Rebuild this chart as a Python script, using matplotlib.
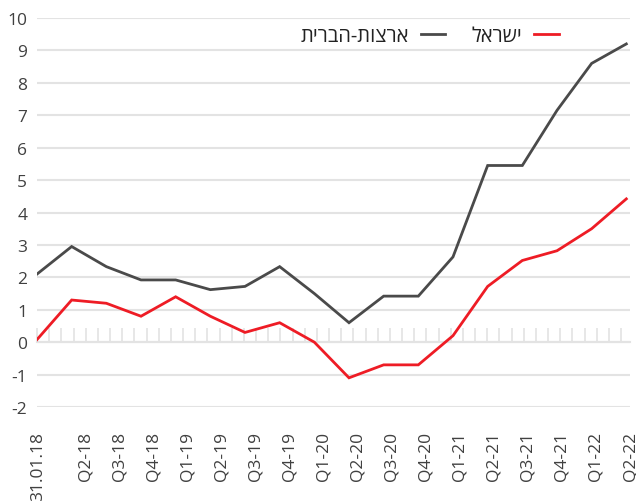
import matplotlib
matplotlib.use("Agg")
import matplotlib.pyplot as plt
from matplotlib.lines import Line2D
import numpy as np

plt.rcParams['font.family'] = ['Open Sans', 'DejaVu Sans']
plt.rcParams['axes.unicode_minus'] = False

# data
labels = ['31.01.18', 'Q2-18', 'Q3-18', 'Q4-18',
          'Q1-19', 'Q2-19', 'Q3-19', 'Q4-19',
          'Q1-20', 'Q2-20', 'Q3-20', 'Q4-20',
          'Q1-21', 'Q2-21', 'Q3-21', 'Q4-21',
          'Q1-22', 'Q2-22']
usa = [2.1, 2.95, 2.33, 1.92, 1.92, 1.62, 1.72, 2.33, 1.5, 0.6,
       1.42, 1.42, 2.63, 5.45, 5.45, 7.15, 8.6, 9.2]
israel = [0.08, 1.3, 1.2, 0.8, 1.4, 0.8, 0.3, 0.6, 0.0, -1.1,
          -0.7, -0.7, 0.2, 1.72, 2.52, 2.82, 3.5, 4.42]
name_usa = 'ארצות-הברית'
name_isr = 'ישראל'

red = '#ee1c25'
grey = '#4a4a4a'
txt = '#404040'
gridc = '#e3e3e3'

fig = plt.figure(figsize=(6.36, 5.02), dpi=100)
ax = fig.add_axes([37/636, 94/502, 593/636, 389/502])

x = np.arange(len(labels))
ax.plot(x, usa, color=grey, lw=2.0, solid_joinstyle='miter')
ax.plot(x, israel, color=red, lw=2.0, solid_joinstyle='miter')

ax.set_xlim(0, 17.05)
ax.set_ylim(-2, 10)
ax.set_yticks(range(-2, 11))
ax.yaxis.grid(True, color=gridc, lw=1.5)
ax.set_axisbelow(True)
for s in ax.spines.values():
    s.set_visible(False)
ax.tick_params(axis='y', length=0, pad=7, labelsize=12.5, labelcolor=txt)

# category labels sit slightly off the points, like the original
lab_pos = [0.03] + list(1.41 + 0.981 * np.arange(len(labels) - 1))
ax.set_xticks(lab_pos)
ax.set_xticklabels(labels, rotation=90, va='top', ha='center')
ax.tick_params(axis='x', length=0, pad=17, labelsize=12.5, labelcolor=txt)

# zero line with small tick marks
sec = ax.secondary_xaxis(2/12)
sec.set_xticks(np.arange(0, 17.06, 0.351))
sec.tick_params(direction='in', length=10, color=gridc, width=1.2,
                labelbottom=False)
sec.spines['bottom'].set_color(gridc)
sec.spines['bottom'].set_linewidth(1.5)

handles = [Line2D([], [], color=grey, lw=2.0), Line2D([], [], color=red, lw=2.0)]
ax.legend(handles, [name_usa[::-1], name_isr[::-1]], ncol=2, markerfirst=False,
          frameon=False, loc='center', bbox_to_anchor=(0.662, 0.953),
          fontsize=14.5, handlelength=1.2, handletextpad=0.6,
          columnspacing=1.3, labelcolor='#222222')

fig.savefig('out.png', dpi=100)
